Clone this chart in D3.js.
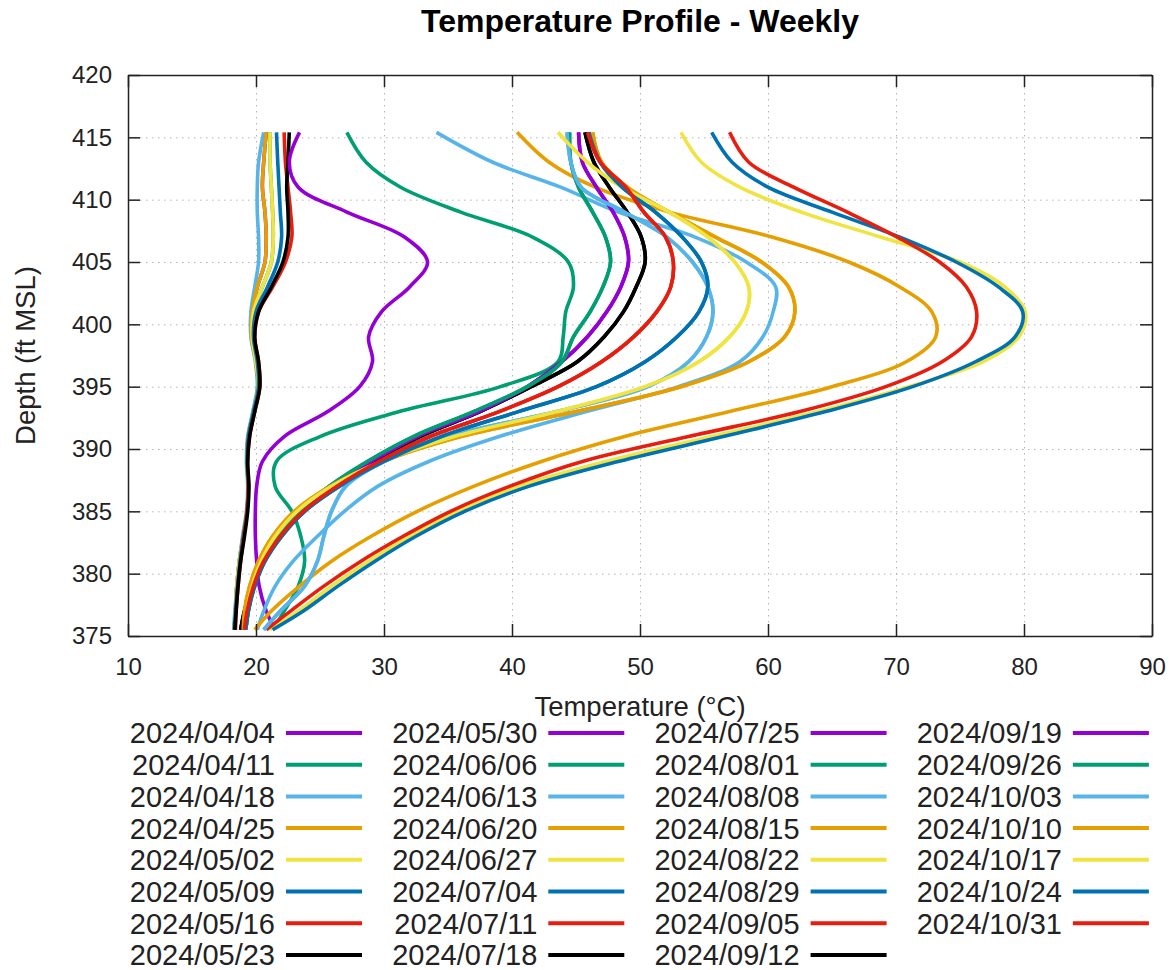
<!DOCTYPE html>
<html>
<head>
<meta charset="utf-8">
<script src="https://cdn.jsdelivr.net/npm/d3@7"></script>
<style>
  body { margin: 0; background: #fff; }
  svg { display: block; font-family: "Liberation Sans", Arial, sans-serif; }
</style>
</head>
<body>
<svg id="root" width="1174" height="970"></svg>
<script>
var d3 = window.d3

// depth levels (ft MSL), top of the profile to the bottom
const depths = [415.4, 413, 411, 409, 407, 405, 403, 401, 399, 397, 395, 393, 391, 389, 387, 385, 383, 381, 379, 377, 375.5]

const dates = ['2024/04/04', '2024/04/11', '2024/04/18', '2024/04/25', '2024/05/02', '2024/05/09',
  '2024/05/16', '2024/05/23', '2024/05/30', '2024/06/06', '2024/06/13', '2024/06/20', '2024/06/27',
  '2024/07/04', '2024/07/11', '2024/07/18', '2024/07/25', '2024/08/01', '2024/08/08', '2024/08/15',
  '2024/08/22', '2024/08/29', '2024/09/05', '2024/09/12', '2024/09/19', '2024/09/26', '2024/10/03',
  '2024/10/10', '2024/10/17', '2024/10/24', '2024/10/31']

// temperatures (°C) at each depth level, one list per week
const wk0404 = [20.8, 20.6, 20.5, 20.7, 20.8, 20.7, 20.1, 19.7, 19.65, 20.0, 20.15, 19.8, 19.4, 19.3, 19.4, 19.3, 19.0, 18.7, 18.5, 18.4, 18.3]
const wk0411 = [21.1, 21.1, 21.2, 21.3, 21.35, 21.2, 20.5, 19.8, 19.7, 20.0, 20.2, 19.8, 19.4, 19.3, 19.4, 19.3, 19.0, 18.7, 18.5, 18.4, 18.3]
const wk0418 = [20.6, 20.2, 20.1, 20.1, 20.2, 20.2, 19.9, 19.6, 19.6, 19.95, 20.1, 19.75, 19.35, 19.25, 19.35, 19.25, 18.95, 18.7, 18.5, 18.35, 18.25]
const wk0425 = [20.8, 20.6, 20.5, 20.7, 20.8, 20.7, 20.1, 19.7, 19.65, 20.0, 20.15, 19.8, 19.4, 19.3, 19.4, 19.3, 19.0, 18.7, 18.5, 18.4, 18.3]
const wk0502 = [21.1, 21.1, 21.2, 21.3, 21.35, 21.2, 20.5, 19.8, 19.7, 20.0, 20.2, 19.8, 19.4, 19.3, 19.4, 19.3, 19.0, 18.7, 18.5, 18.4, 18.3]
const wk0509 = [21.6, 21.7, 21.8, 21.9, 22.0, 21.7, 20.9, 20.0, 19.8, 20.1, 20.2, 19.8, 19.4, 19.3, 19.4, 19.3, 19.0, 18.75, 18.55, 18.4, 18.3]
const wk0516 = [22.2, 22.3, 22.5, 22.7, 22.8, 22.3, 21.3, 20.2, 19.9, 20.2, 20.3, 19.9, 19.5, 19.35, 19.4, 19.3, 19.05, 18.8, 18.6, 18.45, 18.4]
const wk0523 = [22.6, 22.5, 22.4, 22.5, 22.5, 22.1, 21.2, 20.2, 19.9, 20.2, 20.3, 19.9, 19.5, 19.35, 19.45, 19.35, 19.1, 18.8, 18.6, 18.45, 18.35]
const wk0530 = [23.4, 22.6, 23.3, 27.1, 31.6, 33.4, 32.0, 29.8, 28.8, 29.1, 28.1, 25.6, 22.2, 20.5, 20.05, 19.95, 19.95, 20.05, 20.25, 20.8, 21.5]
const wk0606 = [27.1, 28.6, 31.3, 36.0, 41.6, 44.4, 44.8, 44.2, 44.0, 43.6, 39.1, 31.2, 25.0, 21.6, 21.5, 22.8, 23.5, 23.8, 23.3, 22.2, 21.3]
const wk0613 = [34.1, 38.5, 43.8, 48.3, 54.3, 58.3, 60.6, 60.4, 59.6, 57.8, 53.0, 45.8, 39.0, 33.5, 29.5, 26.9, 24.8, 22.9, 21.5, 20.6, 20.1]
const wk0620 = [40.4, 42.9, 46.5, 52.3, 60.3, 66.3, 70.3, 72.8, 73.1, 70.8, 65.0, 57.0, 48.8, 42.3, 37.0, 32.6, 29.0, 25.9, 23.4, 21.2, 19.9]
const wk0627 = [53.2, 54.8, 57.8, 62.6, 68.8, 75.0, 78.5, 80.1, 79.6, 76.8, 71.0, 63.9, 55.6, 47.3, 40.5, 35.7, 32.0, 28.8, 25.9, 23.3, 21.1]
const wk0704 = [55.6, 57.2, 60.0, 65.0, 70.3, 74.7, 78.0, 79.9, 79.3, 76.2, 71.3, 64.5, 56.5, 48.3, 41.3, 36.3, 32.5, 29.3, 26.4, 23.7, 21.3]
const wk0711 = [57.0, 58.5, 62.0, 66.2, 70.1, 73.4, 75.5, 76.3, 75.9, 73.6, 69.2, 62.5, 53.8, 45.5, 39.8, 35.2, 31.5, 28.2, 25.3, 22.7, 20.8]
const wk0718 = [45.7, 46.4, 47.6, 49.0, 50.1, 50.4, 49.7, 48.7, 47.2, 45.1, 41.5, 37.5, 32.8, 29.2, 26.0, 23.5, 21.8, 20.5, 19.7, 19.1, 18.8]
const wk0725 = [45.2, 45.5, 46.6, 47.9, 48.8, 49.1, 48.5, 47.4, 45.9, 43.9, 41.2, 37.4, 32.6, 29.0, 25.9, 23.5, 21.8, 20.6, 19.8, 19.3, 19.1]
const wk0801 = [44.5, 44.6, 45.2, 46.3, 47.3, 47.7, 47.1, 46.1, 44.8, 43.9, 41.2, 37.0, 32.3, 28.7, 25.7, 23.4, 21.7, 20.5, 19.8, 19.4, 19.2]
const wk0808 = [44.3, 44.6, 45.4, 48.8, 52.1, 54.1, 55.3, 55.7, 55.2, 53.8, 50.6, 43.5, 35.0, 30.0, 27.0, 25.9, 25.3, 24.8, 23.8, 21.9, 20.6]
const wk0815 = [46.3, 47.0, 49.0, 52.3, 55.9, 59.5, 61.6, 62.1, 61.3, 58.5, 53.2, 45.0, 36.0, 29.9, 25.8, 23.0, 21.3, 20.2, 19.5, 19.1, 19.0]
const wk0822 = [43.6, 45.9, 48.6, 52.3, 55.3, 57.4, 58.5, 58.3, 57.0, 54.6, 50.4, 43.5, 35.5, 29.8, 25.9, 23.2, 21.5, 20.4, 19.7, 19.3, 19.2]
const wk0829 = [46.0, 46.9, 48.6, 51.2, 53.3, 54.8, 55.3, 54.6, 52.9, 50.4, 46.6, 40.5, 34.5, 30.0, 26.5, 23.8, 22.0, 20.7, 19.9, 19.4, 19.2]
const wk0905 = [45.9, 46.9, 48.9, 50.3, 52.0, 52.6, 52.4, 51.3, 49.5, 47.0, 43.6, 39.0, 33.6, 29.6, 26.3, 23.7, 21.9, 20.6, 19.8, 19.3, 19.1]
const wk0912 = [45.7, 46.4, 47.6, 49.0, 50.1, 50.4, 49.7, 48.7, 47.2, 45.1, 41.5, 37.5, 32.8, 29.2, 26.0, 23.5, 21.8, 20.5, 19.7, 19.1, 18.8]
const wk0919 = [45.2, 45.5, 46.6, 47.9, 48.8, 49.1, 48.5, 47.4, 45.9, 43.9, 41.2, 37.4, 32.6, 29.0, 25.9, 23.5, 21.8, 20.6, 19.8, 19.3, 19.1]
const wk0926 = [44.5, 44.6, 45.2, 46.3, 47.3, 47.7, 47.1, 46.1, 44.8, 43.9, 41.2, 37.0, 32.3, 28.7, 25.7, 23.4, 21.7, 20.5, 19.8, 19.4, 19.2]
const wk1003 = [44.3, 44.6, 45.4, 48.8, 52.1, 54.1, 55.3, 55.7, 55.2, 53.8, 50.6, 43.5, 35.0, 30.0, 27.0, 25.9, 25.3, 24.8, 23.8, 21.9, 20.6]
const wk1010 = [46.3, 47.0, 49.0, 52.3, 55.9, 59.5, 61.6, 62.1, 61.3, 58.5, 53.2, 45.0, 36.0, 29.9, 25.8, 23.0, 21.3, 20.2, 19.5, 19.1, 19.0]
const wk1017 = [43.6, 45.9, 48.6, 52.3, 55.3, 57.4, 58.5, 58.3, 57.0, 54.6, 50.4, 43.5, 35.5, 29.8, 25.9, 23.2, 21.5, 20.4, 19.7, 19.3, 19.2]
const wk1024 = [46.0, 46.9, 48.6, 51.2, 53.3, 54.8, 55.3, 54.6, 52.9, 50.4, 46.6, 40.5, 34.5, 30.0, 26.5, 23.8, 22.0, 20.7, 19.9, 19.4, 19.2]
const wk1031 = [45.9, 46.9, 48.9, 50.3, 52.0, 52.6, 52.4, 51.3, 49.5, 47.0, 43.6, 39.0, 33.6, 29.6, 26.3, 23.7, 21.9, 20.6, 19.8, 19.3, 19.1]

const temps = [wk0404, wk0411, wk0418, wk0425, wk0502, wk0509, wk0516, wk0523, wk0530, wk0606,
  wk0613, wk0620, wk0627, wk0704, wk0711, wk0718, wk0725, wk0801, wk0808, wk0815, wk0822,
  wk0829, wk0905, wk0912, wk0919, wk0926, wk1003, wk1010, wk1017, wk1024, wk1031]

// gnuplot's default line colours, cycling every 8 series
const palette = ['#9400d3', '#009e73', '#56b4e9', '#e69f00', '#f0e442', '#0072b2', '#e51e10', '#000000']

const xTicks = [10, 20, 30, 40, 50, 60, 70, 80, 90]
const yTicks = [375, 380, 385, 390, 395, 400, 405, 410, 415, 420]

const svg = d3.select('#root')

const plotLeft = 128
const plotRight = 1152
const plotTop = 75
const plotBottom = 636

const xScale = d3.scaleLinear().domain([10, 90]).range([plotLeft, plotRight])
const yScale = d3.scaleLinear().domain([375, 420]).range([plotBottom, plotTop])

// dotted grid
const grid = svg.append('g').attr('class', 'grid')
  .attr('stroke', '#b4b4b4')
  .attr('stroke-width', 1)
  .attr('stroke-dasharray', '1.5,4.5')

grid.selectAll('line.gx')
  .data(xTicks.slice(1, -1))
  .enter()
  .append('line')
  .attr('x1', d => xScale(d) + 0.5)
  .attr('x2', d => xScale(d) + 0.5)
  .attr('y1', plotTop)
  .attr('y2', plotBottom)

grid.selectAll('line.gy')
  .data(yTicks.slice(1, -1))
  .enter()
  .append('line')
  .attr('x1', plotLeft)
  .attr('x2', plotRight)
  .attr('y1', d => yScale(d) + 0.5)
  .attr('y2', d => yScale(d) + 0.5)

// profiles
const line = d3.line()
  .x(d => xScale(d[1]))
  .y(d => yScale(d[0]))
  .curve(d3.curveCatmullRom.alpha(0.5))

svg.append('g')
  .selectAll('path.profile')
  .data(temps)
  .enter()
  .append('path')
  .attr('class', 'profile')
  .attr('fill', 'none')
  .attr('stroke', (d, i) => palette[i % 8])
  .attr('stroke-width', 3.6)
  .attr('stroke-linejoin', 'round')
  .attr('d', d => line(d.map((t, j) => [depths[j], t])))

// axes, ticks pointing into the plot on all four sides
function styleAxis (g) {
  g.select('.domain').attr('stroke', '#222').attr('stroke-width', 1.5)
  g.selectAll('.tick line').attr('stroke', '#222').attr('stroke-width', 1.5)
  g.selectAll('.tick text')
    .attr('fill', '#222')
    .attr('font-size', 24)
    .attr('font-family', '"Liberation Sans", Arial, sans-serif')
}

svg.append('g')
  .attr('transform', `translate(0, ${plotBottom})`)
  .call(d3.axisBottom(xScale).tickValues(xTicks).tickSizeInner(-12).tickSizeOuter(0).tickPadding(22))
  .call(styleAxis)

svg.append('g')
  .attr('transform', `translate(0, ${plotTop})`)
  .call(d3.axisTop(xScale).tickValues(xTicks).tickSizeInner(-12).tickSizeOuter(0).tickFormat(''))
  .call(styleAxis)

svg.append('g')
  .attr('transform', `translate(${plotLeft}, 0)`)
  .call(d3.axisLeft(yScale).tickValues(yTicks).tickSizeInner(-12).tickSizeOuter(0).tickPadding(16))
  .call(styleAxis)

svg.append('g')
  .attr('transform', `translate(${plotRight}, 0)`)
  .call(d3.axisRight(yScale).tickValues(yTicks).tickSizeInner(-12).tickSizeOuter(0).tickFormat(''))
  .call(styleAxis)

// title and axis labels
svg.append('text')
  .attr('x', (plotLeft + plotRight) / 2)
  .attr('y', 32)
  .attr('text-anchor', 'middle')
  .attr('font-size', 32)
  .attr('font-weight', 'bold')
  .text('Temperature Profile - Weekly')

svg.append('text')
  .attr('x', (plotLeft + plotRight) / 2)
  .attr('y', 716)
  .attr('text-anchor', 'middle')
  .attr('font-size', 27.5)
  .attr('fill', '#222')
  .text('Temperature (°C)')

svg.append('text')
  .attr('transform', `translate(35, ${(plotTop + plotBottom) / 2}) rotate(-90)`)
  .attr('text-anchor', 'middle')
  .attr('font-size', 27.5)
  .attr('fill', '#222')
  .text('Depth (ft MSL)')

// legend: 4 columns of 8 rows
const colX = d3.scaleLinear().domain([0, 1]).range([275, 537.3])
const rowY = d3.scaleLinear().domain([0, 1]).range([733, 764.7])

const legend = svg.append('g')
  .selectAll('g.key')
  .data(dates)
  .enter()
  .append('g')
  .attr('class', 'key')
  .attr('transform', (d, i) => `translate(${colX(Math.floor(i / 8))}, ${rowY(i % 8)})`)

legend.append('text')
  .attr('text-anchor', 'end')
  .attr('dy', '0.36em')
  .attr('font-size', 29)
  .attr('fill', '#222')
  .text(d => d)

legend.append('line')
  .attr('x1', 11)
  .attr('x2', 87)
  .attr('stroke', (d, i) => palette[i % 8])
  .attr('stroke-width', 4)
</script>
</body>
</html>
